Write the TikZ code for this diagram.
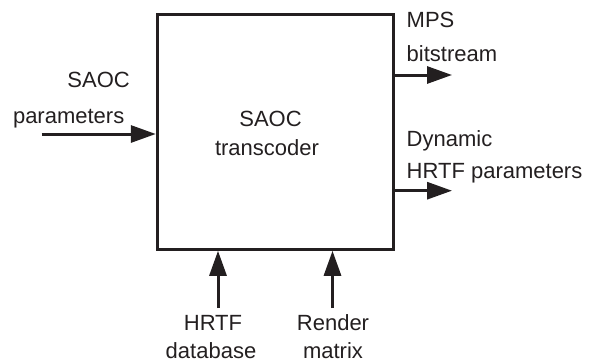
\documentclass[tikz,border=0pt]{standalone}
\usepackage{fontspec}
\setmainfont{Liberation Sans}
\usetikzlibrary{arrows.meta}
\definecolor{ink}{HTML}{231F20}
\begin{document}
\begin{tikzpicture}[x=1pt,y=-1pt,
  lbl/.style={inner sep=0pt,text=ink,font=\fontsize{22}{26}\selectfont},
  blk/.style={draw=ink,line width=3pt,minimum width=236pt,minimum height=235pt,inner sep=0pt},
  arr/.style={draw=ink,line width=3pt,-{Triangle[length=25pt,width=17pt]}}]
\useasboundingbox (0,0) rectangle (589,362);
\node[blk] (box) at (275.3,131.8) {};
\node[lbl,anchor=base] (t1) at (270.5,126.7) {SAOC};
\node[lbl,anchor=base] (t2) at (267,155) {transcoder};
% left input
\coordinate (inL) at (41.7,134);
\draw[arr] (inL) -- (box.west |- inL);
\node[lbl,anchor=base east] (l1) at (130,87) {SAOC};
\node[lbl,anchor=base east] (l2) at (124.5,123) {parameters};
% right outputs
\coordinate (o1) at (452,75);
\coordinate (o2) at (452,190.7);
\draw[arr] (box.east |- o1) -- (o1);
\draw[arr] (box.east |- o2) -- (o2);
\node[lbl,anchor=base west] (r1) at (406.5,27.3) {MPS};
\node[lbl,anchor=base west] (r2) at (406.5,61.7) {bitstream};
\node[lbl,anchor=base west] (r3) at (406.5,146.7) {Dynamic};
\node[lbl,anchor=base west] (r4) at (406.5,178.3) {HRTF parameters};
% bottom inputs
\coordinate (b1) at (218,308);
\coordinate (b2) at (332.5,308);
\draw[arr] (b1) -- (box.south -| b1);
\draw[arr] (b2) -- (box.south -| b2);
\node[lbl,anchor=base] (d1) at (213,330) {HRTF};
\node[lbl,anchor=base] (d2) at (211,358) {database};
\node[lbl,anchor=base] (d3) at (333,330) {Render};
\node[lbl,anchor=base] (d4) at (333,358) {matrix};
\end{tikzpicture}
\end{document}
